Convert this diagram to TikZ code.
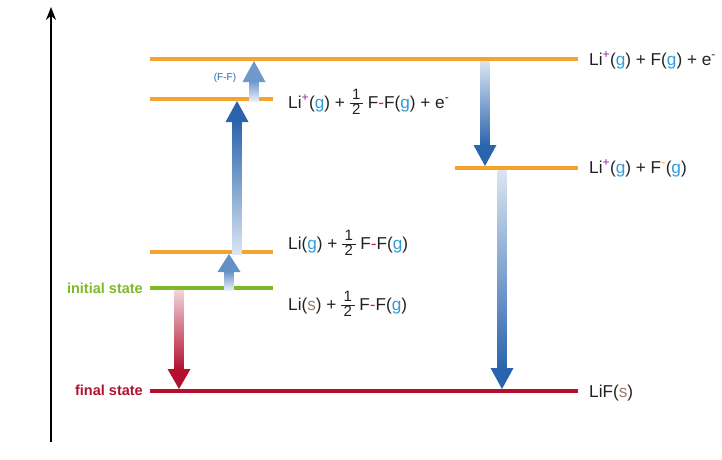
\documentclass[tikz,border=0pt]{standalone}
\usepackage{fontspec}
\setmainfont{Liberation Sans}
\usetikzlibrary{calc,arrows.meta}
\definecolor{lvorange}{HTML}{F5A32A}
\definecolor{lvgreen}{HTML}{7DB928}
\definecolor{lvred}{HTML}{B2102E}
\definecolor{gblue}{HTML}{2D9CDB}
\definecolor{purp}{HTML}{9B1E8C}
\definecolor{bondred}{HTML}{E8175D}
\definecolor{sbrown}{HTML}{9C7E6E}
\definecolor{txt}{HTML}{222222}
\definecolor{adark}{HTML}{2A64AE}
\definecolor{amid}{HTML}{6F98CC}
\newcommand\gG{{\color{gblue}g}}
\newcommand\sS{{\color{sbrown}s}}
\newcommand\pp{\textsuperscript{\color{purp}+}}
\newcommand\mm{\textsuperscript{-}}
\newcommand\bond{{\color{bondred}-}}
\newcommand\half{$\vcenter{\hbox{\fontsize{15}{15}\selectfont\setlength\arrayrulewidth{1pt}\renewcommand\arraystretch{0.85}\begin{tabular}{@{\,}c@{\,}}1\\\hline 2\end{tabular}}}$}
% gradient arrows: #1 start, #2 tip, #3 start colour, #4 end colour, #5 head length
\newcommand\uparr[5]{%
  \shade[bottom color=#3, top color=#4] ($(#1)+(-4.5,0)$) rectangle ($(#2)+(4.5,-#5+1)$);
  \fill[#4] ($(#2)+(-11.5,-#5)$) -- (#2) -- ($(#2)+(11.5,-#5)$) -- cycle;}
\newcommand\downarr[5]{%
  \shade[top color=#3, bottom color=#4] ($(#1)+(-4.5,0)$) rectangle ($(#2)+(4.5,#5-1)$);
  \fill[#4] ($(#2)+(-11.5,#5)$) -- (#2) -- ($(#2)+(11.5,#5)$) -- cycle;}
\begin{document}
\begin{tikzpicture}[x=1pt,y=1pt,
  level/.style={line width=4pt},
  lab/.style={anchor=base west,inner sep=0pt,text=txt,font=\fontsize{17.2}{19}\selectfont},
  state/.style={anchor=base east,inner sep=0pt,font=\bfseries\fontsize{14.5}{16}\selectfont}]
\useasboundingbox (0,0) rectangle (722,-459);
% axis
\coordinate (ax0) at (51,-442);
\coordinate (ax1) at (51,-7);
\draw[line width=1.5pt,-{Stealth[length=13pt,width=10pt]}] (ax0) -- (ax1);
% levels
\draw[level,lvorange] (150,-59) coordinate (L1a) -- (578,-59) coordinate (L1b);
\draw[level,lvorange] (150,-99) coordinate (L2a) -- (273,-99) coordinate (L2b);
\draw[level,lvorange] (150,-252) coordinate (L3a) -- (273,-252) coordinate (L3b);
\draw[level,lvgreen] (150,-288) coordinate (L4a) -- (273,-288) coordinate (L4b);
\draw[level,lvorange] (455,-168) coordinate (L5a) -- (578,-168) coordinate (L5b);
\draw[level,lvred] (150,-391) coordinate (L6a) -- (578,-391) coordinate (L6b);
% labels
\node[lab] (t1) at (589,-65) {Li\pp(\gG) + F(\gG) + e\mm};
\node[lab] (t2) at (288,-108) {Li\pp(\gG) + \half\ F\bond F(\gG) + e\mm};
\node[lab] (t3) at (288,-249) {Li(\gG) + \half\ F\bond F(\gG)};
\node[lab] (t4) at (288,-310) {Li(\sS) + \half\ F\bond F(\gG)};
\node[lab] (t5) at (589,-173) {Li\pp(\gG) + F{\color{lvorange}\mm}(\gG)};
\node[lab] (t6) at (589,-397) {LiF(\sS)};
\node[state,text=lvgreen] (s1) at (143,-293) {initial state};
\node[state,text=lvred] (s2) at (143,-395) {final state};
\node[inner sep=0pt,text=adark,font=\fontsize{10}{11}\selectfont] (ff) at (225,-78) {(F\bond F)};
% arrow endpoints
\coordinate (a1s) at (229,-290); \coordinate (a1e) at (229,-254);
\coordinate (a2s) at (237,-254); \coordinate (a2e) at (237,-101);
\coordinate (a3s) at (254,-101); \coordinate (a3e) at (254,-61);
\coordinate (a4s) at (485,-61);  \coordinate (a4e) at (485,-166);
\coordinate (a5s) at (502,-170); \coordinate (a5e) at (502,-389);
\coordinate (a6s) at (179,-290); \coordinate (a6e) at (179,-389);
\uparr{a1s}{a1e}{white!85!amid}{amid!85!adark}{18}
\uparr{a2s}{a2e}{white!75!amid}{adark}{21}
\uparr{a3s}{a3e}{white!85!amid}{amid}{21}
\downarr{a4s}{a4e}{white!75!amid}{adark}{21}
\downarr{a5s}{a5e}{white!75!amid}{adark}{21}
\downarr{a6s}{a6e}{white!82!lvred}{lvred}{20}
\end{tikzpicture}
\end{document}
